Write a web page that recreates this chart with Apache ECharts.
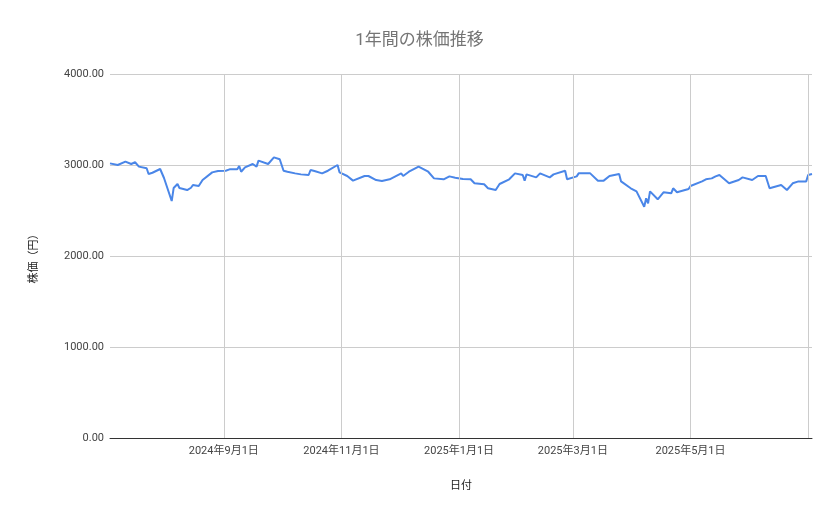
<!DOCTYPE html>
<html><head><meta charset="utf-8">
<script src="https://cdn.jsdelivr.net/npm/echarts@6/dist/echarts.min.js"></script>
<style>html,body{margin:0;padding:0;background:#fff}#c{width:839px;height:519px}</style>
</head><body><div id="c"></div>
<script>
const dates = ["2024-07-04","2024-07-08","2024-07-12","2024-07-15","2024-07-17","2024-07-19","2024-07-23","2024-07-24","2024-07-26","2024-07-27","2024-07-30","2024-08-01","2024-08-05","2024-08-06","2024-08-08","2024-08-09","2024-08-13","2024-08-15","2024-08-16","2024-08-19","2024-08-21","2024-08-22","2024-08-26","2024-08-29","2024-09-02","2024-09-04","2024-09-08","2024-09-09","2024-09-10","2024-09-12","2024-09-16","2024-09-18","2024-09-19","2024-09-24","2024-09-27","2024-09-30","2024-10-02","2024-10-04","2024-10-08","2024-10-11","2024-10-15","2024-10-16","2024-10-18","2024-10-22","2024-10-25","2024-10-30","2024-10-31","2024-11-04","2024-11-07","2024-11-08","2024-11-13","2024-11-15","2024-11-19","2024-11-22","2024-11-26","2024-12-02","2024-12-03","2024-12-06","2024-12-11","2024-12-16","2024-12-17","2024-12-19","2024-12-24","2024-12-27","2024-12-30","2025-01-03","2025-01-07","2025-01-09","2025-01-14","2025-01-16","2025-01-20","2025-01-22","2025-01-27","2025-01-30","2025-02-03","2025-02-04","2025-02-05","2025-02-10","2025-02-12","2025-02-17","2025-02-19","2025-02-25","2025-02-26","2025-03-03","2025-03-04","2025-03-05","2025-03-10","2025-03-14","2025-03-17","2025-03-20","2025-03-25","2025-03-26","2025-03-31","2025-04-03","2025-04-07","2025-04-08","2025-04-09","2025-04-10","2025-04-14","2025-04-17","2025-04-21","2025-04-22","2025-04-24","2025-04-30","2025-05-01","2025-05-07","2025-05-09","2025-05-12","2025-05-14","2025-05-16","2025-05-21","2025-05-26","2025-05-27","2025-05-28","2025-06-02","2025-06-05","2025-06-09","2025-06-11","2025-06-17","2025-06-20","2025-06-23","2025-06-26","2025-06-30","2025-07-01","2025-07-03"];
const prices = [3018,3000,3037,3011,3030,2982,2964,2901,2915,2900,2956,2857,2604,2747,2791,2747,2725,2750,2780,2769,2835,2853,2919,2934,2937,2952,2952,2989,2926,2974,3011,2982,3048,3011,3084,3063,2937,2926,2908,2897,2890,2945,2934,2908,2937,3000,2919,2879,2828,2843,2879,2879,2835,2824,2843,2908,2879,2926,2982,2926,2908,2853,2843,2875,2861,2846,2843,2799,2788,2744,2725,2791,2843,2908,2890,2828,2897,2864,2908,2864,2897,2937,2843,2875,2908,2897,2908,2828,2828,2879,2901,2820,2744,2710,2542,2634,2579,2710,2623,2700,2689,2744,2700,2736,2769,2820,2843,2853,2875,2890,2799,2835,2820,2864,2835,2879,2879,2744,2780,2725,2799,2820,2820,2890,2901];
const tickDates = ["2024-09-01","2024-11-01","2025-01-01","2025-03-01","2025-05-01","2025-07-01"];
const labelDates = ["2024-09-01","2024-11-01","2025-01-01","2025-03-01","2025-05-01"];
const yTicks = [0,1000,2000,3000,4000];
const ts = s => new Date(s + "T00:00:00").getTime();
const fmt = s => { const [y,m,d] = s.split('-').map(Number); return y+'年'+m+'月'+d+'日'; };
const chart = echarts.init(document.getElementById('c'));
const F = 'Roboto, "Noto Sans CJK JP", sans-serif';
chart.setOption({
  animation:false,
  title:{text:'1年間の株価推移',left:'center',top:27,textStyle:{fontFamily:F,fontSize:17,fontWeight:'normal',color:'#757575'}},
  grid:{left:110,right:27,top:74,bottom:81},
  xAxis:{type:'time',min:ts("2024-07-04"),max:ts("2025-07-03"),
    name:'日付',nameLocation:'middle',nameGap:43,nameTextStyle:{fontFamily:F,fontSize:11,color:'#222'},
    axisLine:{lineStyle:{color:'#333'}},axisTick:{show:false},axisLabel:{show:false},splitLine:{show:false}},
  yAxis:{type:'value',min:yTicks[0],max:yTicks[yTicks.length-1],interval:1000,
    name:'株価（円）',nameLocation:'middle',nameGap:70,nameTextStyle:{fontFamily:F,fontSize:11,color:'#222'},
    axisLabel:{fontFamily:F,fontSize:11,color:'#444',margin:6,formatter:v=>v.toFixed(2)},
    axisLine:{show:false},axisTick:{show:false},splitLine:{lineStyle:{color:'#cccccc'}}},
  series:[{type:'line',data:dates.map((d,i)=>[ts(d),prices[i]]),showSymbol:false,
    lineStyle:{color:'#4a86e8',width:2},itemStyle:{color:'#4a86e8'},z:3,
    markLine:{silent:true,symbol:'none',lineStyle:{color:'#cccccc',type:'solid',width:1},
      label:{position:'start',distance:8,fontFamily:F,fontSize:11,color:'#444'},
      data:tickDates.map(d=>({xAxis:ts(d),label:{show:labelDates.includes(d),formatter:fmt(d)}}))}}]
});
</script></body></html>
